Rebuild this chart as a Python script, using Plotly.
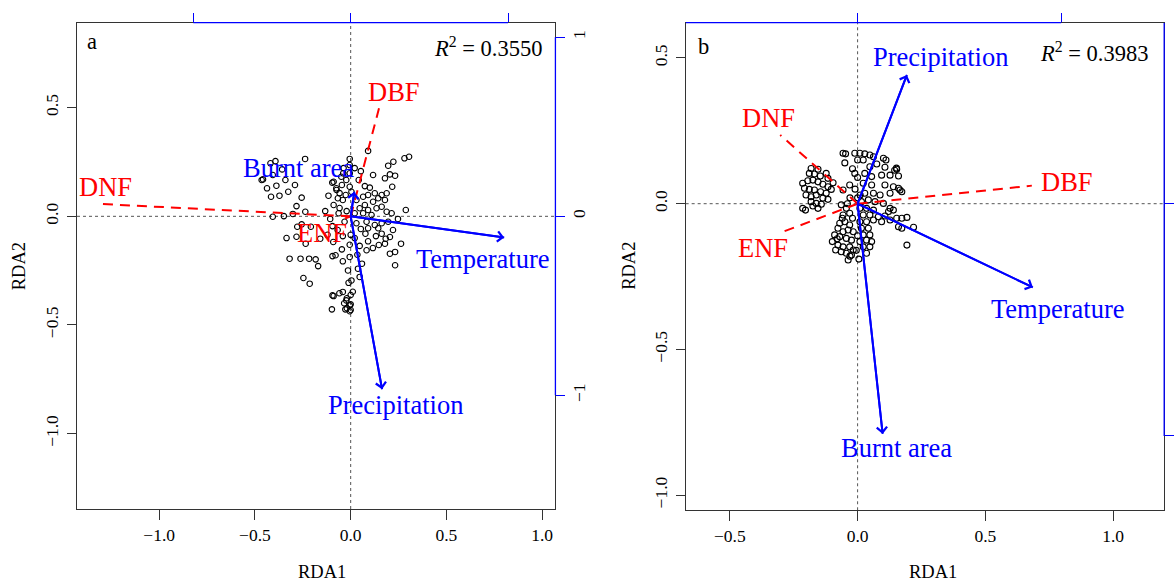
import plotly.graph_objects as go

# ---------------- Panel a data ----------------
a_site_rda1 = [-0.393, -0.419, -0.358, -0.407, -0.238, -0.458, -0.341, -0.437, -0.388, -0.291,
               -0.326, -0.416, -0.372, -0.256, -0.283, -0.116, -0.096, -0.133, -0.407, -0.349,
               -0.302, -0.107, -0.256, -0.335, -0.283, -0.235, -0.159, -0.121, -0.091, -0.319,
               -0.262, -0.217, -0.183, -0.170, -0.095, -0.247, -0.214, -0.095, -0.098, -0.089,
               -0.034, -0.020, 0.000, 0.000, -0.059, 0.000, -0.020, 0.011, -0.041, 0.000,
               0.077, 0.091, 0.132, 0.162, 0.183, 0.205, 0.179, 0.263, -0.005, -0.046,
               0.083, 0.035, 0.205, 0.232, -0.005, -0.079, -0.041, 0.059, 0.232, -0.014,
               0.038, 0.047, 0.004, -0.011, -0.041, -0.023, -0.005, -0.028, -0.005, 0.091,
               -0.005, -0.005, 0.223, 0.281, 0.305, 0.196, 0.179, 0.205, 0.232, 0.117,
               0.217, 0.100, 0.053, -0.005, -0.049, -0.023, -0.005, -0.046, 0.004, -0.067,
               -0.075, -0.041, 0.030, 0.065, 0.091, 0.126, 0.144, 0.162, 0.179, 0.188,
               0.117, 0.074, 0.047, 0.091, 0.135, 0.162, 0.188, 0.214, 0.288, 0.021,
               0.065, 0.109, -0.063, -0.032, 0.030, 0.083, 0.126, 0.162, 0.196, 0.091,
               0.144, -0.089, -0.039, -0.074, -0.058, -0.026, -0.089, -0.058, -0.021, -0.095,
               -0.068, 0.053, 0.021, 0.047, 0.116, 0.147, 0.247, 0.221, -0.037, 0.021,
               0.042, 0.074, -0.279, -0.208, -0.465, -0.237]
a_site_rda2 = [0.254, 0.244, 0.216, 0.190, 0.264, 0.170, 0.167, 0.129, 0.141, 0.144,
               0.113, 0.090, 0.095, 0.086, 0.047, 0.095, 0.155, 0.024, -0.002, 0.001,
               0.011, -0.012, -0.037, -0.100, -0.094, -0.126, -0.103, -0.085, -0.118, -0.195,
               -0.195, -0.195, -0.198, -0.229, -0.183, -0.284, -0.310, -0.364, -0.428, -0.367,
               -0.400, -0.423, -0.431, -0.405, -0.354, -0.362, -0.377, -0.347, -0.091, -0.085,
               -0.080, -0.115, -0.091, -0.080, -0.103, -0.095, -0.126, -0.126, -0.131, -0.152,
               -0.156, -0.177, -0.172, -0.164, -0.187, -0.179, -0.207, -0.218, -0.225, -0.249,
               -0.241, -0.279, -0.295, -0.306, -0.348, -0.387, -0.410, -0.428, -0.437, 0.301,
               0.264, 0.236, 0.251, 0.267, 0.274, 0.233, 0.175, 0.193, 0.187, 0.190,
               0.136, 0.132, 0.208, 0.198, 0.182, 0.167, 0.136, 0.144, 0.113, 0.083,
               0.129, 0.075, 0.075, 0.090, 0.098, 0.106, 0.083, 0.098, 0.075, 0.106,
               0.067, 0.052, 0.037, 0.029, 0.037, 0.044, 0.021, 0.014, 0.029, 0.014,
               0.014, 0.006, 0.014, -0.025, -0.032, -0.025, -0.040, -0.032, -0.025, -0.055,
               -0.055, 0.159, 0.198, 0.121, 0.107, 0.098, 0.052, 0.038, 0.024, -0.045,
               -0.063, -0.058, -0.100, -0.136, -0.146, -0.132, -0.012, -0.063, 0.222, 0.222,
               0.167, 0.139, -0.048, -0.048, 0.167, 0.021]

a_env_names = ["Temperature", "Precipitation", "Burnt area"]
a_env_rda1 = [0.802, 0.164, 0.019]
a_env_rda2 = [-0.097, -0.796, 0.113]
a_env_lab_rda1 = [0.690, 0.236, -0.274]
a_env_lab_rda2 = [-0.197, -0.868, 0.222]

a_sp_names = ["DNF", "DBF", "ENF"]
a_sp_rda1 = [-1.313, 0.148, -0.030]
a_sp_rda2 = [0.057, 0.497, -0.010]
a_sp_lab_rda1 = [-1.282, 0.226, -0.148]
a_sp_lab_rda2 = [0.136, 0.573, -0.078]
a_r2 = "0.3550"

# ---------------- Panel b data ----------------
b_site_rda1 = [-0.182, -0.155, -0.123, -0.189, -0.169, -0.146, -0.116, -0.096, -0.215, -0.195,
               -0.175, -0.155, -0.136, -0.116, -0.208, -0.189, -0.169, -0.145, -0.123, -0.103,
               -0.202, -0.182, -0.162, -0.136, -0.116, -0.182, -0.162, -0.142, -0.215, -0.155,
               -0.204, -0.175,
               -0.057, -0.047, -0.011, -0.011, -0.031, -0.057, -0.064, -0.044, -0.031, -0.057,
               -0.070, -0.050, -0.031, -0.077, -0.057, -0.037, -0.017, -0.090, -0.070, -0.044,
               -0.024, -0.099, -0.077, -0.057, -0.031, -0.086, -0.064, -0.044, -0.024, -0.037,
               -0.017,
               0.009, 0.028, 0.048, 0.062, 0.101, 0.111, 0.022, 0.048, 0.075, 0.107,
               0.153, 0.127, 0.160, 0.028, 0.055, 0.094, 0.022, 0.055, 0.107, 0.140,
               0.160, 0.166, 0.173, 0.028, 0.062, 0.088, 0.127, 0.042, 0.068, 0.101,
               0.015, 0.009, 0.035, 0.062, 0.127, 0.121, 0.140, 0.022, 0.048, 0.081,
               0.107, 0.009, 0.035, 0.062, 0.094, 0.127, 0.153, 0.173, 0.193, 0.160,
               0.173, 0.219, 0.015, 0.042, 0.022, 0.048, 0.009, 0.035, 0.055, 0.022,
               0.048, 0.193, 0.035,
               0.000, -0.020, 0.000, -0.010, 0.000, -0.020, 0.000, -0.005, 0.005, -0.030,
               -0.080, -0.060, -0.040, -0.030, 0.010, -0.050, 0.145, 0.152]
b_site_rda2 = [0.121, 0.118, 0.104, 0.104, 0.102, 0.095, 0.087, 0.072, 0.070, 0.079,
               0.081, 0.075, 0.067, 0.058, 0.053, 0.049, 0.047, 0.041, 0.036, 0.049,
               0.030, 0.024, 0.030, 0.019, 0.015, 0.007, 0.001, -0.002, -0.016, -0.016,
               -0.022, -0.008,
               0.173, 0.171, 0.173, 0.104, 0.064, 0.047, -0.004, -0.016, -0.033, -0.039,
               -0.067, -0.062, -0.073, -0.084, -0.096, -0.090, -0.096, -0.107, -0.113, -0.119,
               -0.125, -0.130, -0.142, -0.148, -0.148, -0.159, -0.165, -0.170, -0.176, -0.193,
               -0.159,
               0.173, 0.171, 0.167, 0.161, 0.156, 0.150, 0.150, 0.127, 0.136, 0.125,
               0.118, 0.098, 0.095, 0.104, 0.093, 0.098, 0.070, 0.064, 0.064, 0.058,
               0.053, 0.047, 0.041, 0.036, 0.036, 0.030, 0.036, 0.013, 0.007, 0.001,
               0.007, -0.016, -0.016, -0.022, -0.016, -0.027, -0.022, -0.039, -0.039, -0.045,
               -0.042, -0.062, -0.062, -0.056, -0.062, -0.056, -0.050, -0.050, -0.047, -0.079,
               -0.084, -0.081, -0.084, -0.084, -0.107, -0.107, -0.130, -0.125, -0.130, -0.148,
               -0.148, -0.142, -0.170,
               0.150, 0.120, 0.090, 0.050, 0.020, -0.050, -0.110, -0.160, -0.190, -0.180,
               -0.120, -0.050, 0.000, 0.020, 0.030, 0.140, 0.115, 0.122]

b_env_names = ["Precipitation", "Temperature", "Burnt area"]
b_env_rda1 = [0.193, 0.686, 0.098]
b_env_rda2 = [0.442, -0.287, -0.790]
b_env_lab_rda1 = [0.324, 0.785, 0.153]
b_env_lab_rda2 = [0.502, -0.361, -0.837]

b_sp_names = ["DNF", "DBF", "ENF"]
b_sp_rda1 = [-0.303, 0.682, -0.303]
b_sp_rda2 = [0.236, 0.062, -0.100]
b_sp_lab_rda1 = [-0.347, 0.818, -0.372]
b_sp_lab_rda2 = [0.293, 0.075, -0.153]
b_r2 = "0.3983"

# tick labels
a_xticks = [-1.0, -0.5, 0.0, 0.5, 1.0]
a_xtick_text = ["\u22121.0", "\u22120.5", "0.0", "0.5", "1.0"]
a_yticks = [-1.0, -0.5, 0.0, 0.5]
a_ytick_text = ["\u22121.0", "\u22120.5", "0.0", "0.5"]
a_rticks = [-1, 0, 1]
a_rtick_text = ["\u22121", "0", "1"]
a_tticks = [-1, 0, 1]
b_xticks = [-0.5, 0.0, 0.5, 1.0]
b_xtick_text = ["\u22120.5", "0.0", "0.5", "1.0"]
b_yticks = [-1.0, -0.5, 0.0, 0.5]
b_ytick_text = ["\u22121.0", "\u22120.5", "0.0", "0.5"]
b_rticks = [-1, 0]
b_rtick_text = ["\u22121", "0"]
b_tticks = [0, 1]

FONT = "Liberation Serif, Times New Roman, serif"
BLUE = "#0000FF"
RED = "#FF0000"
BOX = "#333333"
LBL = 26.5

fig = go.Figure()

panels = [
    dict(xa="x", ya="y", sx=a_site_rda1, sy=a_site_rda2,
         en=a_env_names, ex=a_env_rda1, ey=a_env_rda2, elx=a_env_lab_rda1, ely=a_env_lab_rda2,
         sn=a_sp_names, spx=a_sp_rda1, spy=a_sp_rda2, slx=a_sp_lab_rda1, sly=a_sp_lab_rda2,
         msize=5.5),
    dict(xa="x2", ya="y2", sx=b_site_rda1, sy=b_site_rda2,
         en=b_env_names, ex=b_env_rda1, ey=b_env_rda2, elx=b_env_lab_rda1, ely=b_env_lab_rda2,
         sn=b_sp_names, spx=b_sp_rda1, spy=b_sp_rda2, slx=b_sp_lab_rda1, sly=b_sp_lab_rda2,
         msize=6),
]

annotations = []
shapes = []

for p in panels:
    # zero reference lines (dotted)
    shapes.append(dict(type="line", xref=p["xa"] + " domain", x0=0, x1=1, yref=p["ya"], y0=0, y1=0,
                       line=dict(color="#555555", width=1, dash="dot"), layer="below"))
    shapes.append(dict(type="line", yref=p["ya"] + " domain", y0=0, y1=1, xref=p["xa"], x0=0, x1=0,
                       line=dict(color="#555555", width=1, dash="dot"), layer="below"))
    # site scores
    fig.add_trace(go.Scatter(x=p["sx"], y=p["sy"], mode="markers", xaxis=p["xa"], yaxis=p["ya"],
                             marker=dict(symbol="circle-open", size=p["msize"], color="black",
                                         line=dict(width=1.1, color="black")),
                             showlegend=False, hoverinfo="skip"))
    # species (red dashed lines)
    for name, x1, y1, lx, ly in zip(p["sn"], p["spx"], p["spy"], p["slx"], p["sly"]):
        fig.add_trace(go.Scatter(x=[0, x1], y=[0, y1], mode="lines", xaxis=p["xa"], yaxis=p["ya"],
                                 line=dict(color=RED, width=2, dash="10px,7px"),
                                 showlegend=False, hoverinfo="skip"))
        annotations.append(dict(x=lx, y=ly, xref=p["xa"], yref=p["ya"], text=name, showarrow=False,
                                font=dict(family=FONT, size=LBL, color=RED),
                                xanchor="center", yanchor="middle"))
    # environmental arrows (blue)
    for name, x1, y1, lx, ly in zip(p["en"], p["ex"], p["ey"], p["elx"], p["ely"]):
        fig.add_trace(go.Scatter(x=[0, x1], y=[0, y1], mode="lines", xaxis=p["xa"], yaxis=p["ya"],
                                 line=dict(color=BLUE, width=2),
                                 showlegend=False, hoverinfo="skip"))
        annotations.append(dict(x=x1, y=y1, ax=0, ay=0, xref=p["xa"], yref=p["ya"],
                                axref=p["xa"], ayref=p["ya"], text="", showarrow=True,
                                arrowhead=4, arrowsize=1, arrowwidth=2, arrowcolor=BLUE,
                                standoff=0, startstandoff=0))
        annotations.append(dict(x=lx, y=ly, xref=p["xa"], yref=p["ya"], text=name, showarrow=False,
                                font=dict(family=FONT, size=LBL, color=BLUE),
                                xanchor="center", yanchor="middle"))

# blue biplot-axis lines (between outer ticks)
shapes.append(dict(type="line", xref="x3", x0=-1, x1=1, yref="paper", y0=0.9609, y1=0.9609,
                   line=dict(color=BLUE, width=1.3)))
shapes.append(dict(type="line", xref="paper", x0=0.4695, x1=0.4695, yref="y3", y0=-1, y1=1,
                   line=dict(color=BLUE, width=1.3)))
shapes.append(dict(type="line", xref="x4", x0=-0.845, x1=1, yref="paper", y0=0.9609, y1=0.9609,
                   line=dict(color=BLUE, width=1.3)))
shapes.append(dict(type="line", xref="paper", x0=0.9841, x1=0.9841, yref="y4", y0=-1, y1=0.779,
                   line=dict(color=BLUE, width=1.3)))

# panel letters and R2
tf = dict(family=FONT, size=22.5, color="black")
af = dict(family=FONT, size=18.5, color="black")
annotations += [
    dict(x=0.0779, y=0.9282, xref="paper", yref="paper", text="a", showarrow=False, font=tf,
         xanchor="center", yanchor="middle"),
    dict(x=0.5945, y=0.9196, xref="paper", yref="paper", text="b", showarrow=False, font=tf,
         xanchor="center", yanchor="middle"),
    dict(x=0.4600, y=0.9196, xref="paper", yref="paper", text="<i>R</i><sup>2</sup> = " + a_r2,
         showarrow=False, font=tf, xanchor="right", yanchor="middle"),
    dict(x=0.9721, y=0.9110, xref="paper", yref="paper", text="<i>R</i><sup>2</sup> = " + b_r2,
         showarrow=False, font=tf, xanchor="right", yanchor="middle"),
    dict(x=0.2719, y=0.016, xref="paper", yref="paper", text="RDA1", showarrow=False,
         font=af, xanchor="center", yanchor="middle"),
    dict(x=0.7888, y=0.016, xref="paper", yref="paper", text="RDA1", showarrow=False,
         font=af, xanchor="center", yanchor="middle"),
    dict(x=0.0162, y=0.542, xref="paper", yref="paper", text="RDA2", showarrow=False, textangle=-90,
         font=af, xanchor="center", yanchor="middle"),
    dict(x=0.5315, y=0.542, xref="paper", yref="paper", text="RDA2", showarrow=False, textangle=-90,
         font=af, xanchor="center", yanchor="middle"),
]

tickfont = dict(family=FONT, size=17.5, color="black")
base = dict(showgrid=False, zeroline=False, ticks="outside", tickcolor=BOX, tickwidth=1.3,
            showline=True, mirror=True, linecolor=BOX, linewidth=1.3, tickfont=tickfont,
            tickmode="array")
sec = dict(showgrid=False, zeroline=False, ticks="outside", tickcolor=BLUE, tickwidth=1.3,
           showline=False, tickfont=tickfont, tickmode="array")

fig.update_layout(
    width=1198, height=581, autosize=False, margin=dict(l=0, r=0, t=0, b=0, pad=0),
    paper_bgcolor="white", plot_bgcolor="white", showlegend=False,
    font=dict(family=FONT, color="black"),
    xaxis=dict(base, domain=[0.0651, 0.4695], range=[-1.4295, 1.0695], anchor="y",
               tickvals=a_xticks, ticktext=a_xtick_text, ticklen=10, ticklabelstandoff=0),
    yaxis=dict(base, domain=[0.1239, 0.9609], range=[-1.347, 0.891], anchor="x",
               tickvals=a_yticks, ticktext=a_ytick_text, ticklen=9, tickangle=-90,
               ticklabelstandoff=2),
    xaxis2=dict(base, domain=[0.5796, 0.9841], range=[-0.673, 1.200], anchor="y2",
                tickvals=b_xticks, ticktext=b_xtick_text, ticklen=10, ticklabelstandoff=0),
    yaxis2=dict(base, domain=[0.1217, 0.9609], range=[-1.052, 0.621], anchor="x2",
                tickvals=b_yticks, ticktext=b_ytick_text, ticklen=9, tickangle=-90,
                ticklabelstandoff=2),
    xaxis3=dict(sec, overlaying="x", side="top", anchor="y", range=[-1.739, 1.301],
                tickvals=a_tticks, ticklen=9, showticklabels=False),
    yaxis3=dict(sec, overlaying="y", side="right", anchor="x", range=[-1.635, 1.0816],
                tickvals=a_rticks, ticktext=a_rtick_text, ticklen=9, tickangle=-90,
                ticklabelstandoff=-1),
    xaxis4=dict(sec, overlaying="x2", side="top", anchor="y2", range=[-0.845, 1.506],
                tickvals=b_tticks, ticklen=9, showticklabels=False),
    yaxis4=dict(sec, overlaying="y2", side="right", anchor="x2", range=[-1.320, 0.779],
                tickvals=b_rticks, ticktext=b_rtick_text, ticklen=9, tickangle=-90,
                ticklabelstandoff=-1),
    annotations=annotations, shapes=shapes,
)

page_js = (
    "document.documentElement.style.margin='0';"
    "document.body.style.margin='0';document.body.style.overflow='hidden';"
)

fig.write_html("out.html",
               config={"responsive": False, "displayModeBar": False},
               post_script=page_js)
